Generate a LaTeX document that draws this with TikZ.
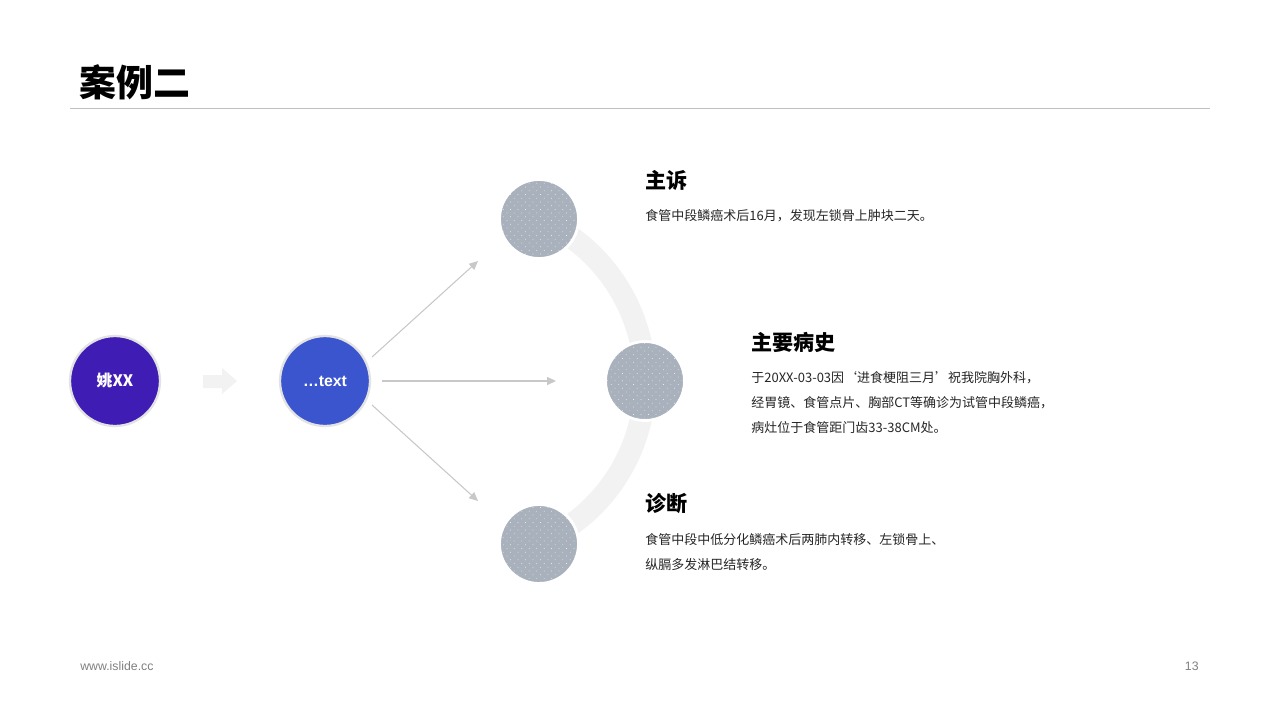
\documentclass[tikz,border=0pt]{standalone}
\usepackage{fontspec}
\setmainfont{Noto Sans CJK SC}
\newfontfamily\latinfont{Liberation Sans}
\usepackage{xcolor}
\usetikzlibrary{arrows.meta, patterns.meta}

\definecolor{violetc}{HTML}{3F1DB5}
\definecolor{bluec}{HTML}{3B55CF}
\definecolor{spotc}{HTML}{A9B1BD}
\definecolor{ringc}{HTML}{F2F2F2}
\definecolor{linkc}{HTML}{C8C8C8}

\begin{document}
\begin{tikzpicture}[
  x=0.02cm, y=-0.02cm,
  disc/.style={circle, draw=gray!22, line width=1.3pt, minimum size=1.8cm, inner sep=0pt,
    text=white, font=\bfseries\fontsize{9}{9}\selectfont},
  spot/.style={circle, draw=white, line width=1.6pt, minimum size=1.58cm, inner sep=0pt,
    preaction={fill=spotc}, pattern={Dots[distance=3pt, radius=0.3pt, angle=45]}, pattern color=white!75!spotc},
  head/.style={anchor=west, inner sep=0pt, font=\bfseries\fontsize{12}{12}\selectfont},
  body/.style={anchor=north west, inner sep=0pt, align=left, font=\fontsize{7.4}{14.3}\selectfont, text=black!85},
  link/.style={-{Triangle[length=5pt, width=4.5pt]}, draw=linkc, line width=0.6pt}
]
  \useasboundingbox[fill=white] (0,0) rectangle (1280,720);

  \node[anchor=west, inner sep=0pt, font=\bfseries\fontsize{21}{21}\selectfont] (title) at (79,82) {案例二};
  \coordinate (r1) at (70,108); \coordinate (r2) at (1210,108);
  \draw[gray!50, line width=0.5pt] (r1) -- (r2);

  \coordinate (ctr) at (468,381);
  \draw[ringc, line width=0.44cm] ([shift={(-66.3:177)}]ctr) arc[start angle=-66.3, end angle=66.3, radius=177];

  \node[disc, fill=violetc] (pat) at (115,381) {姚XX};
  \node[disc, fill=bluec] (txt) at (325,381) {\latinfont …text};
  \fill[ringc] (203,375) -- (222,375) -- (222,368) -- (237,381) -- (222,394) -- (222,388) -- (203,388) -- cycle;

  \node[spot] (s1) at (539,219) {};
  \node[spot] (s2) at (645,381) {};
  \node[spot] (s3) at (539,544) {};

  \coordinate (a1) at (372,357); \coordinate (b1) at (478,261);
  \coordinate (a2) at (382,381); \coordinate (b2) at (556,381);
  \coordinate (a3) at (372,405); \coordinate (b3) at (478,501);
  \draw[link] (a1) -- (b1);
  \draw[link] (a2) -- (b2);
  \draw[link] (a3) -- (b3);

  \node[head] (h1) at (645,180) {主诉};
  \node[body] (t1) at (645,209) {食管中段鳞癌术后16月，发现左锁骨上肿块二天。};
  \node[head] (h2) at (751,342) {主要病史};
  \node[body] (t2) at (751,371) {于20XX-03-03因‘进食梗阻三月’祝我院胸外科，\\经胃镜、食管点片、胸部CT等确诊为试管中段鳞癌，\\病灶位于食管距门齿33-38CM处。};
  \node[head] (h3) at (645,504) {诊断};
  \node[body] (t3) at (645,533) {食管中段中低分化鳞癌术后两肺内转移、左锁骨上、\\纵膈多发淋巴结转移。};

  \node[anchor=west, inner sep=0pt, text=gray, font=\latinfont\fontsize{7}{7}\selectfont] (web) at (80,666) {www.islide.cc};
  \node[anchor=east, inner sep=0pt, text=gray, font=\latinfont\fontsize{7}{7}\selectfont] (pg) at (1199,666) {13};
\end{tikzpicture}
\end{document}
